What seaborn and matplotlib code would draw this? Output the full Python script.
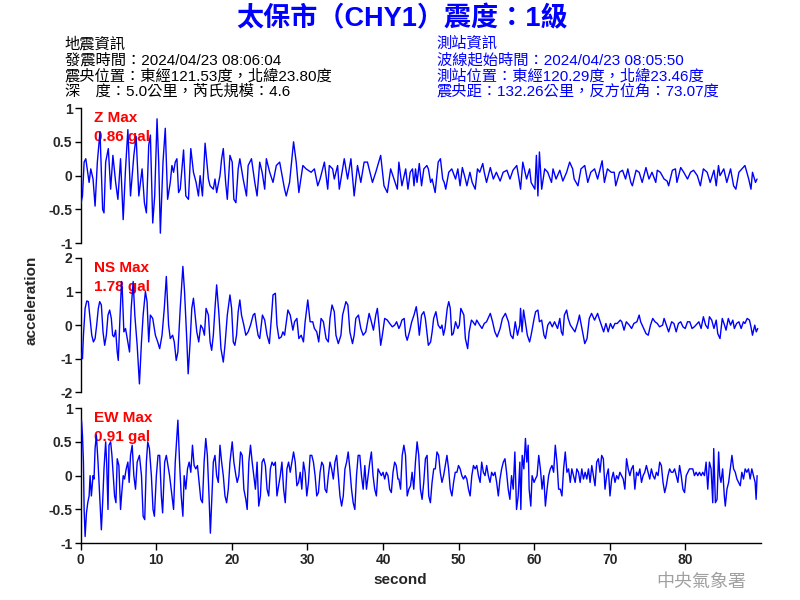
import matplotlib
matplotlib.use("Agg")
import matplotlib.pyplot as plt
import seaborn as sns
import pandas as pd

# ---------------- data ----------------
title_text = "太保市（CHY1）震度：1級"
quake_info = ["地震資訊",
              "發震時間：2024/04/23 08:06:04",
              "震央位置：東經121.53度，北緯23.80度",
              "深　度：5.0公里，芮氏規模：4.6"]
station_info = ["測站資訊",
                "波線起始時間：2024/04/23 08:05:50",
                "測站位置：東經120.29度，北緯23.46度",
                "震央距：132.26公里，反方位角：73.07度"]
components = ["Z", "NS", "EW"]
max_values = ["0.86", "1.78", "0.91"]
y_limits = [1, 2, 1]
x_ticks = [0, 10, 20, 30, 40, 50, 60, 70, 80]

z_time = [0.00, 0.22, 0.44, 0.66, 1.10, 1.32, 1.62, 1.89, 2.19, 2.54, 2.89, 3.07, 3.29, 3.64, 3.95,
          4.25, 4.61, 4.91, 5.26, 5.61, 5.92, 6.23, 6.58, 7.02, 7.32, 7.68, 7.89, 8.11, 8.42, 8.68,
          8.99, 9.21, 9.52, 9.78, 10.09, 10.31, 10.53, 10.88, 11.18, 11.49, 11.84, 12.06, 12.28,
          12.50, 12.72, 12.94, 13.16, 13.60, 13.90, 14.25, 14.56, 14.91, 15.26, 15.57, 15.79, 16.10,
          16.45, 16.89, 17.11, 17.54, 17.76, 17.98, 18.42, 18.64, 18.86, 19.17, 19.39, 19.74, 20.04,
          20.26, 20.53, 20.83, 21.05, 21.49, 21.93, 22.15, 22.59, 23.03, 23.33, 23.68, 24.00, 24.34,
          24.56, 25.00, 25.44, 25.88, 26.32, 26.97, 27.19, 27.63, 28.16, 28.51, 28.86, 29.39, 29.82,
          30.48, 30.92, 31.36, 31.67, 32.24, 32.68, 32.89, 33.33, 33.55, 33.99, 34.21, 34.87, 35.31,
          35.75, 36.18, 36.62, 37.06, 37.50, 37.94, 38.60, 39.04, 39.69, 40.13, 40.57, 41.01, 41.45,
          41.89,
          42.1, 42.5, 43.0, 43.3, 43.6, 43.9, 44.1, 44.3, 44.5, 44.8, 45.1, 45.4, 45.8, 46.0, 46.3,
          46.5, 46.7, 46.9, 47.3, 47.6, 47.9, 48.1, 48.3, 48.7, 49.1, 49.6, 49.9, 50.2, 50.5, 50.9,
          51.1, 51.5, 51.8, 52.2, 52.5, 52.8, 53.2, 53.4, 53.7, 54.2, 54.6, 55.0, 55.5, 55.9, 56.4,
          56.8, 57.2, 57.7, 58.0, 58.2, 58.5, 59.0, 59.4, 59.6, 60.1, 60.3, 60.5, 60.7, 61.0, 61.4,
          61.8, 62.3, 62.5, 62.9, 63.4, 63.8, 64.3, 64.7, 65.1, 65.3, 65.8, 66.2, 66.7, 67.1, 67.5,
          68.0, 68.4, 69.0, 69.3, 69.7, 70.2, 70.6, 70.8, 71.3, 71.7, 72.1, 72.4, 72.8, 73.0, 73.5,
          73.9, 74.3, 74.8, 75.2, 75.6, 76.1, 76.3, 76.7, 77.2, 77.6, 77.8, 78.3, 78.7, 78.9, 79.4,
          79.8, 80.3, 80.7, 81.1, 81.6, 82.0, 82.4, 82.9, 83.3, 83.8, 84.1, 84.4, 84.6, 85.1, 85.5,
          86.0, 86.4, 86.7, 87.1, 87.5, 87.9, 88.4, 88.7, 88.9, 89.3, 89.5]
z_acc = [-0.42, -0.30, 0.20, 0.25, -0.10, 0.10, -0.05, -0.45, 0.20, 0.65, -0.50, -0.55, 0.20, 0.40, -0.20,
         0.30, -0.10, -0.35, 0.25, -0.65, 0.10, 0.68, -0.30, 0.30, 0.58, -0.30, -0.10, 0.10, -0.40, -0.55,
         0.45, 0.60, -0.70, -0.30, 0.84, 0.20, -0.85, 0.20, 0.70, -0.35, -0.10, 0.15, 0.05,
         0.20, 0.25, -0.25, -0.20, 0.38, -0.30, -0.35, 0.40, 0.05, -0.10, -0.30, 0.00, -0.30,
         0.48, -0.05, -0.15, -0.20, -0.05, -0.25, 0.00, 0.25, 0.40, -0.10, -0.35, 0.30, 0.20,
         -0.35, -0.40, 0.10, 0.25, -0.05, -0.30, 0.15, 0.25, -0.10, -0.30, 0.20, 0.05, -0.20,
         0.25, 0.05, -0.10, 0.15, 0.20, -0.20, -0.30, -0.10, 0.50, 0.20, -0.25, 0.15, 0.10,
         0.05, 0.10, -0.15, -0.05, 0.20, -0.20, 0.15, 0.10, -0.05, 0.15, -0.20, 0.25, -0.05,
         0.25, -0.30, 0.15, -0.10, 0.20, 0.20, -0.10, 0.05, 0.30, -0.15, -0.25, 0.10, -0.05,
         -0.20,
         0.20, -0.15, 0.10, -0.20, 0.05, 0.10, -0.15, 0.10, -0.10, 0.18, -0.15, 0.10, 0.15, 0.10, -0.10,
         -0.05, -0.15, -0.25, 0.20, 0.25, -0.05, -0.10, -0.20, 0.05, 0.10, -0.05, 0.10, -0.15, 0.12, -0.05,
         -0.15, 0.05, -0.10, -0.20, 0.10, 0.05, 0.18, 0.05, -0.10, 0.12, -0.05, 0.05, -0.08, 0.05, 0.08,
         -0.05, 0.08, 0.15, -0.05, -0.20, 0.20, -0.05, 0.10, -0.10, -0.20, 0.30, -0.30, 0.35, -0.20, 0.10,
         0.05, -0.10, 0.10, -0.05, 0.08, -0.08, 0.05, 0.20, 0.10, -0.05, -0.15, 0.10, 0.15, -0.10, 0.05,
         0.10, -0.05, 0.22, -0.10, 0.10, 0.05, 0.05, -0.15, 0.05, 0.08, -0.05, 0.10, -0.10, -0.15, 0.08,
         0.05, -0.10, 0.12, -0.05, 0.05, -0.10, 0.08, 0.05, -0.05, -0.08, -0.15, 0.08, 0.10, -0.10, 0.12,
         0.05, -0.05, 0.05, 0.08, 0.00, -0.15, 0.10, 0.05, -0.10, 0.08, -0.15, 0.15, 0.00, 0.10, -0.10,
         0.10, -0.15, -0.20, 0.05, 0.10, 0.15, -0.05, -0.20, 0.05, -0.10, -0.05]

ns_time = [0.00, 0.10, 0.22, 0.35, 0.57, 0.79, 1.00, 1.23, 1.45, 1.67, 1.89, 2.10, 2.32, 2.50, 2.72,
           2.94, 3.16, 3.38, 3.60, 3.82, 4.04, 4.21, 4.39, 4.61, 4.82, 4.96, 5.18, 5.39, 5.48, 5.70,
           5.92, 6.23, 6.45, 6.67, 6.93, 7.15, 7.46, 7.76, 8.03, 8.25, 8.55, 8.77, 8.99, 9.21, 9.52,
           9.87, 10.18, 10.44, 10.75, 11.05, 11.32, 11.62, 11.84, 12.15, 12.37, 12.63, 12.85, 13.16,
           13.51, 13.73, 14.04, 14.21, 14.47, 14.69, 14.91, 15.13, 15.35, 15.61, 15.88, 16.14, 16.36,
           16.58, 16.89, 17.11, 17.32, 17.54, 17.76, 17.98, 18.29, 18.55, 18.86, 19.08, 19.39, 19.74,
           19.96, 20.18, 20.39, 20.61, 20.83, 21.05, 21.27, 21.58, 21.84, 22.15, 22.46, 22.81, 23.03,
           23.25, 23.46, 23.68, 24.04, 24.34, 24.65, 24.96, 25.22, 25.44, 25.75, 25.96, 26.23, 26.54,
           26.75, 26.97, 27.41, 27.72, 28.07, 28.29, 28.60, 28.86, 29.17, 29.47, 29.69, 30.04, 30.35,
           30.70, 30.92, 31.23, 31.49, 31.80, 32.11, 32.46, 32.76, 32.98, 33.25, 33.55, 33.77, 34.08,
           34.43, 34.65, 35.09, 35.35, 35.61, 35.96, 36.18, 36.40, 36.75, 37.06, 37.37, 37.72, 38.16,
           38.46, 38.73, 39.04, 39.25, 39.47, 39.69, 39.91, 40.22, 40.57, 40.88, 41.23, 41.54, 41.80,
           42.1, 42.3, 42.5, 42.8, 43.0, 43.2, 43.5, 43.8, 44.1, 44.4, 44.6, 44.8, 45.1, 45.4, 45.6,
           45.8, 46.0, 46.3, 46.5, 46.7, 47.0, 47.3, 47.6, 47.8, 48.0, 48.2, 48.5, 48.7, 48.9, 49.1,
           49.3, 49.6, 49.9, 50.1, 50.3, 50.7, 50.9, 51.2, 51.4, 51.7, 51.9, 52.2, 52.4, 52.8, 53.1,
           53.4, 53.7, 54.2, 54.5, 54.8, 55.1, 55.5, 55.8, 56.2, 56.6, 56.9, 57.2, 57.5, 57.8, 58.1,
           58.2, 58.4, 58.6, 58.9, 59.1, 59.4, 59.6, 60.0, 60.2, 60.5, 60.7, 61.0, 61.3, 61.5, 61.8,
           62.1, 62.4, 62.7, 63.1, 63.4, 63.6, 63.8, 64.0, 64.3, 64.5, 64.8, 65.1, 65.4, 65.8, 66.0,
           66.2, 66.5, 66.7, 67.0, 67.3, 67.6, 68.0, 68.4, 68.6, 68.9, 69.2, 69.5, 69.8, 70.1, 70.4,
           70.7, 71.0, 71.4, 71.6, 71.9, 72.2, 72.6, 72.9, 73.2, 73.6, 73.9, 74.1, 74.5, 74.8, 75.1,
           75.4, 75.7, 76.0, 76.3, 76.6, 77.0, 77.2, 77.5, 77.8, 78.2, 78.5, 78.8, 79.1, 79.4, 79.7,
           80.0, 80.3, 80.6, 80.9, 81.2, 81.6, 81.8, 82.1, 82.4, 82.7, 83.0, 83.2, 83.5, 83.8, 84.1,
           84.3, 84.6, 84.9, 85.2, 85.4, 85.7, 86.0, 86.3, 86.5, 86.8, 87.1, 87.4, 87.7, 87.9, 88.2,
           88.5, 88.7, 88.9, 89.2, 89.4, 89.6]
ns_acc = [-0.80, -0.90, -1.00, -0.30, 0.50, 0.72, 0.70, 0.20, -0.30, -0.50, -0.40, 0.00, 0.50, 0.70, 0.60,
          -0.20, -0.60, -0.30, 0.30, 0.45, 0.20, -0.30, -0.35, -0.15, -0.80, -1.05, 0.20, 1.30, 1.10, -0.20,
          -0.10, -0.50, -0.80, 0.50, 1.30, 0.30, -0.60, -1.75, -0.50, 0.30, 1.00, 0.70, -0.50, 0.30, 0.20,
          -0.30, -0.50, -0.70, -0.30, 0.50, 1.45, 0.00, -0.40, -0.30, -0.50, -1.05, -0.80, 0.50,
          1.75, 1.00, -0.50, -1.45, -0.50, 0.50, 0.80, 0.30, -0.20, -0.50, 0.00, -0.10, -0.30,
          0.50, 0.30, -0.50, -0.75, -0.30, 0.50, 1.20, 0.30, -0.70, -1.10, -0.60, 0.30, 0.90,
          0.50, -0.50, -0.60, -0.30, 0.40, 0.75, 0.30, 0.00, -0.30, -0.20, 0.00, 0.30, 0.35,
          0.00, -0.30, -0.40, 0.30, 0.15, -0.30, -0.55, 0.20, 0.90, 0.95, 0.00, -0.40, -0.35,
          -0.20, -0.30, 0.45, 0.30, -0.15, 0.10, 0.20, -0.40, -0.30, -0.50, 0.10, 0.75, 0.10,
          0.10, -0.10, -0.20, -0.50, 0.20, 0.10, -0.40, -0.50, 0.20, 0.60, 0.40, -0.30, -0.55,
          -0.30, 0.30, 0.70, 0.60, -0.20, -0.55, -0.30, 0.20, 0.30, -0.10, -0.30, -0.20, 0.35,
          0.10, -0.15, 0.30, 0.50, 0.00, -0.60, -0.30, 0.20, 0.15, 0.05, -0.05, 0.00, 0.10,
          -0.10, 0.00, 0.15, 0.20, -0.30, -0.45, -0.20, 0.10, 0.30, 0.55, 0.20, -0.30, 0.30, 0.40, 0.20,
          -0.20, -0.60, -0.50, -0.20, 0.20, 0.40, 0.00, -0.10, 0.00, -0.30, -0.10, 0.50, 0.70, 0.50, -0.30,
          -0.25, 0.10, -0.10, 0.00, 0.50, 0.30, -0.40, -0.70, -0.20, 0.15, 0.10, 0.00, 0.15, 0.00, -0.10,
          0.05, 0.10, 0.35, 0.10, -0.20, -0.35, -0.10, 0.20, 0.35, 0.10, -0.30, -0.40, 0.10, -0.30, 0.00,
          0.50, -0.20, 0.45, 0.00, -0.30, -0.50, -0.30, 0.20, 0.40, 0.45, 0.10, 0.15, -0.30, -0.40, 0.00,
          0.10, -0.05, 0.10, -0.10, 0.20, -0.20, -0.30, 0.30, 0.45, 0.20, 0.00, -0.10, -0.20, 0.10, 0.30,
          0.05, -0.30, -0.55, -0.40, 0.20, 0.35, 0.15, 0.35, 0.20, 0.00, -0.20, 0.05, -0.20, 0.05, -0.10,
          0.05, 0.05, 0.15, 0.10, -0.15, 0.10, 0.00, -0.10, 0.05, 0.10, 0.30, 0.10, -0.10, -0.25, -0.30,
          0.00, 0.20, 0.10, 0.05, -0.05, 0.00, 0.20, 0.00, -0.20, 0.10, 0.05, -0.20, 0.05, 0.10, -0.05,
          -0.10, 0.10, 0.10, -0.10, -0.05, 0.05, 0.10, -0.10, 0.25, 0.00, -0.10, 0.25, 0.15, -0.10, 0.15,
          -0.25, -0.40, 0.20, 0.00, -0.15, 0.20, 0.00, 0.15, -0.10, 0.05, 0.10, -0.10, 0.10, 0.05, 0.20,
          0.15, -0.05, -0.30, 0.00, -0.20, -0.10]

ew_time = [0.00, 0.09, 0.22, 0.35, 0.44, 0.57, 0.75, 0.92, 1.10, 1.23, 1.40, 1.62, 1.75, 1.89, 2.06,
           2.28, 2.50, 2.72, 2.89, 3.07, 3.29, 3.42, 3.60, 3.73, 3.95, 4.12, 4.30, 4.47, 4.65, 4.82,
           5.04, 5.26, 5.39, 5.61, 5.79, 6.01, 6.23, 6.40, 6.58, 6.80, 7.02, 7.24, 7.46, 7.76, 8.03,
           8.25, 8.46, 8.68, 8.86, 9.08, 9.34, 9.56, 9.74, 10.00, 10.22, 10.44, 10.66, 10.83, 11.10,
           11.32, 11.54, 11.75, 12.06, 12.28, 12.50, 12.72, 12.85, 13.07, 13.29, 13.51, 13.68, 13.90,
           14.12, 14.34, 14.56, 14.78, 15.00, 15.22, 15.44, 15.66, 15.88, 16.10, 16.32, 16.54, 16.75,
           16.97, 17.15, 17.32, 17.54, 17.76, 17.98, 18.20, 18.42, 18.64, 18.86, 19.08, 19.30, 19.52,
           19.74, 20.04, 20.26, 20.53, 20.70, 20.92, 21.14, 21.36, 21.58, 21.84, 22.02, 22.24, 22.46,
           22.68, 22.89, 23.11, 23.33, 23.55, 23.77, 23.99, 24.21, 24.43, 24.65, 24.87, 25.09, 25.31,
           25.53, 25.75, 25.96, 26.18, 26.40, 26.62, 26.84, 27.06, 27.28, 27.50, 27.72, 27.94, 28.16,
           28.38, 28.60, 28.82, 29.04, 29.25, 29.47, 29.69, 29.91, 30.13, 30.35, 30.57, 30.79, 31.01,
           31.23, 31.45, 31.67, 31.89, 32.11, 32.32, 32.54, 32.76, 32.98, 33.20, 33.42, 33.64, 33.86,
           34.08, 34.30, 34.52, 34.74, 34.96, 35.18, 35.39, 35.61, 35.83, 36.05, 36.27, 36.49, 36.71,
           36.93, 37.15, 37.37, 37.59, 37.81, 38.03, 38.25, 38.46, 38.68, 38.90, 39.12, 39.34, 39.56,
           39.78, 40.00, 40.22, 40.44, 40.66, 40.88, 41.10, 41.32, 41.54, 41.75, 41.97,
           42.10, 42.32, 42.54, 42.76, 42.98, 43.20, 43.42, 43.64, 43.85, 44.07, 44.29, 44.51, 44.73,
           44.95, 45.17, 45.39, 45.61, 45.83, 46.05, 46.27, 46.49, 46.71, 46.92, 47.14, 47.36, 47.58,
           47.80, 48.02, 48.24, 48.46, 48.68, 48.90, 49.12, 49.34, 49.56, 49.78, 49.99, 50.21, 50.43,
           50.65, 50.87, 51.09, 51.31, 51.53, 51.75, 51.97, 52.19, 52.41, 52.63, 52.85, 53.06, 53.28,
           53.50, 53.72, 53.94, 54.16, 54.38, 54.60, 54.82, 55.04, 55.26, 55.48, 55.70, 55.92, 56.14,
           56.35, 56.57, 56.79, 57.01, 57.23, 57.45, 57.67, 57.89, 58.11, 58.24, 58.42, 58.64, 58.85,
           59.03, 59.21, 59.34, 59.56, 59.73, 59.99, 60.17, 60.39, 60.61, 60.83, 61.05, 61.27, 61.49,
           61.71, 61.92, 62.14, 62.36, 62.58, 62.80, 63.02, 63.24, 63.46, 63.68, 63.90, 64.12, 64.34,
           64.56, 64.78, 64.99, 65.21, 65.43, 65.65, 65.87, 66.09, 66.31, 66.53, 66.75, 66.97, 67.19,
           67.41, 67.63, 67.85, 68.06, 68.28, 68.50, 68.72, 68.94, 69.16, 69.38, 69.60, 69.82, 70.04,
           70.26, 70.48, 70.70, 70.92, 71.14, 71.35, 71.57, 71.79, 72.01, 72.23, 72.45, 72.67, 72.89,
           73.11, 73.33, 73.55, 73.77, 73.99, 74.21, 74.42, 74.64, 74.86, 75.08, 75.30, 75.52, 75.74,
           75.96, 76.18, 76.40, 76.62, 76.84, 77.06, 77.28, 77.49, 77.71, 77.93, 78.15, 78.37, 78.59,
           78.81, 79.03, 79.25, 79.47, 79.69, 79.91, 80.13, 80.35, 80.56, 80.78, 81.00, 81.22, 81.44,
           81.66, 81.88, 82.10, 82.32, 82.54, 82.76, 82.98, 83.20, 83.42, 83.64, 83.77, 83.99, 84.21,
           84.42, 84.56, 84.73, 84.95, 85.17, 85.30, 85.52, 85.74, 85.96, 86.18, 86.40, 86.62, 86.84,
           87.06, 87.28, 87.49, 87.71, 87.93, 88.15, 88.37, 88.59, 88.81, 89.03, 89.25, 89.38, 89.51]
ew_acc = [0.60, 0.82, 0.60, 0.20, -0.50, -0.90, -0.55, -0.40, -0.30, 0.00, -0.30, 0.00, -0.05, 0.40, 0.60,
          0.20, -0.30, -0.80, -0.40, 0.10, 0.50, 0.20, -0.50, 0.45, 0.50, 0.30, 0.00, -0.30, -0.40, 0.25,
          0.15, -0.50, -0.30, 0.00, -0.05, 0.10, 0.20, -0.10, 0.30, 0.45, 0.00, -0.20, 0.20, 0.30, 0.00,
          -0.60, -0.65, 0.20, 0.50, 0.40, 0.00, -0.50, -0.60, 0.00, 0.30, 0.30, -0.30, -0.55, 0.20,
          0.30, 0.15, 0.00, -0.30, -0.50, 0.20, 0.60, 0.82, 0.20, -0.30, -0.60, 0.00, -0.20,
          0.10, 0.20, 0.05, 0.45, 0.15, 0.10, 0.15, -0.10, -0.35, -0.40, 0.20, 0.55, 0.30,
          -0.30, -0.85, -0.40, 0.20, 0.30, 0.00, -0.10, 0.45, 0.20, 0.00, -0.30, -0.40, -0.20,
          0.20, 0.50, 0.20, 0.00, -0.10, 0.00, 0.35, 0.30, -0.20, -0.35, -0.50, 0.20, 0.45,
          0.20, 0.00, -0.20, 0.20, -0.45, -0.30, 0.20, 0.25, 0.15, -0.20, -0.30, 0.10, 0.20,
          0.15, 0.20, -0.30, -0.15, 0.00, 0.20, -0.20, -0.40, 0.10, 0.20, 0.05, 0.20, 0.35,
          0.20, -0.15, -0.10, 0.05, -0.20, 0.20, 0.05, -0.30, -0.10, 0.30, 0.30, 0.20, 0.00,
          -0.30, -0.25, 0.05, 0.20, 0.15, -0.20, -0.25, 0.00, 0.20, 0.10, -0.05, 0.20, 0.30,
          0.00, -0.30, -0.45, -0.30, 0.10, 0.20, 0.35, 0.10, -0.20, -0.40, -0.50, 0.00, 0.30,
          0.30, 0.00, -0.20, 0.15, -0.20, 0.00, 0.20, 0.35, 0.00, -0.20, -0.30, 0.10, 0.05,
          0.00, 0.05, -0.05, 0.05, 0.00, -0.20, -0.25, 0.05, 0.20, 0.15, -0.05,
          -0.05, -0.20, 0.30, 0.45, 0.30, -0.30, -0.20, -0.15, 0.05, -0.20, 0.20, 0.50, 0.30,
          -0.20, -0.35, -0.10, 0.25, 0.30, -0.30, -0.40, -0.10, 0.10, 0.10, 0.35, 0.30, 0.05,
          -0.10, 0.00, 0.15, 0.30, 0.10, -0.20, -0.30, -0.10, 0.05, 0.05, 0.15, 0.10, 0.00,
          -0.05, 0.00, -0.05, -0.20, -0.30, 0.00, 0.15, 0.10, 0.15, 0.00, -0.10, 0.20, 0.05,
          0.00, 0.15, 0.00, -0.10, 0.05, 0.00, 0.05, -0.10, -0.30, -0.05, 0.10, 0.20, 0.25,
          0.05, -0.20, -0.35, 0.00, -0.20, 0.35, -0.50, -0.30, 0.20, -0.50, 0.30, 0.10, 0.55,
          0.20, 0.45, -0.20, -0.45, 0.00, -0.10, -0.05, 0.00, 0.30, 0.10, -0.20, 0.00, -0.45,
          -0.20, 0.00, 0.10, 0.15, 0.05, 0.45, 0.20, -0.20, -0.20, -0.30, 0.10, 0.35, 0.05,
          0.10, -0.10, 0.10, 0.00, -0.10, 0.10, 0.05, -0.10, 0.10, -0.05, 0.05, -0.05, 0.10,
          -0.10, 0.15, 0.00, -0.15, 0.20, 0.25, 0.05, 0.30, 0.25, -0.20, 0.00, 0.10, -0.30,
          -0.05, 0.05, -0.10, 0.00, -0.05, 0.05, 0.00, -0.05, -0.20, 0.25, 0.10, 0.00, 0.10,
          0.15, -0.20, 0.05, 0.00, 0.10, -0.10, 0.00, 0.05, 0.15, 0.05, -0.05, 0.10, 0.00,
          -0.05, 0.05, 0.00, 0.20, 0.15, -0.10, -0.25, -0.15, 0.00, 0.10, 0.05, 0.05, 0.10,
          0.00, -0.10, 0.15, 0.00, -0.20, -0.25, 0.00, 0.05, 0.10, 0.10, 0.10, 0.00, 0.05,
          0.00, 0.05, 0.00, 0.05, 0.00, 0.20, -0.20, 0.20, 0.10, -0.40, 0.40, -0.40, -0.35,
          0.35, 0.00, -0.10, 0.10, -0.30, -0.45, -0.20, -0.10, 0.10, 0.30, 0.10, 0.05, -0.05,
          -0.10, -0.15, 0.05, -0.05, 0.10, 0.05, 0.10, -0.05, 0.10, 0.00, -0.10, -0.35, 0.00]

traces = {"Z": (z_time, z_acc), "NS": (ns_time, ns_acc), "EW": (ew_time, ew_acc)}

# ---------------- styling ----------------
sns.set_theme(style="white")
plt.rcParams['font.family'] = ['Liberation Sans', 'Noto Sans CJK TC', 'DejaVu Sans']
mixed = ['Liberation Sans', 'Noto Sans CJK TC', 'DejaVu Sans']
cjk = ['Noto Sans CJK TC', 'DejaVu Sans']

fig = plt.figure(figsize=(8, 6), dpi=100)
left, width = 0.101, 0.85
panels = [(0.5945, 0.2255), (0.3462, 0.2238), (0.0945, 0.2255)]

for i, comp in enumerate(components):
    b, h = panels[i]
    ax = fig.add_axes([left, b, width, h])
    t, v = traces[comp]
    df = pd.DataFrame({"second": t, "acceleration": v})
    sns.lineplot(data=df, x="second", y="acceleration", ax=ax, color="#0000ff",
                 linewidth=1.0, estimator=None, sort=False, zorder=3)
    lim = y_limits[i]
    ax.set_xlim(0, 90)
    ax.set_ylim(-lim, lim)
    ax.set_facecolor("white")
    yt = [lim, lim / 2, 0, -lim / 2, -lim]
    ax.set_yticks(yt)
    ax.set_yticklabels([("%g" % y) for y in yt], fontsize=10, fontweight="bold")
    ax.tick_params(axis="y", left=True, direction="out", length=4, width=1, color="black", pad=2)
    for s in ["top", "right"]:
        ax.spines[s].set_visible(False)
    ax.spines["left"].set_color("black")
    ax.spines["left"].set_linewidth(1)
    ax.set_xlabel("")
    ax.set_ylabel("")
    if i < 2:
        ax.spines["bottom"].set_visible(False)
        ax.set_xticks([])
    else:
        ax.spines["bottom"].set_color("black")
        ax.spines["bottom"].set_linewidth(1)
        ax.set_xticks(x_ticks)
        ax.set_xticklabels([str(x) for x in x_ticks], fontsize=10, fontweight="bold")
        ax.tick_params(axis="x", bottom=True, direction="out", length=5, width=1, color="black", pad=2)
    ax.text(0.0196, 0.926, f"{comp} Max", transform=ax.transAxes, color="red",
            fontsize=11, fontweight="bold", va="center", ha="left", zorder=1)
    ax.text(0.0196, 0.786, f"{max_values[i]} gal", transform=ax.transAxes, color="red",
            fontsize=11, fontweight="bold", va="center", ha="left", zorder=1)

fig.text(0.04, 0.5, "acceleration", rotation=90, fontsize=11, fontweight="bold",
         va="center", ha="center")
fig.text(0.5, 0.033, "second", fontsize=11, fontweight="bold", va="center", ha="center")

fig.text(0.503, 0.968, title_text, family=mixed, fontsize=19.5, fontweight="bold",
         color="#0000ff", va="center", ha="center")
rows_y = [0.927, 0.900, 0.873, 0.847]
for y, s in zip(rows_y, quake_info):
    fig.text(0.081, y, s, family=mixed, fontsize=11, color="black", va="center", ha="left")
for y, s in zip(rows_y, station_info):
    fig.text(0.546, y, s, family=mixed, fontsize=11, color="#0000ff", va="center", ha="left")
fig.text(0.877, 0.03, "中央氣象署", family=cjk, fontsize=13, color="#a0a0a0",
         va="center", ha="center")

fig.savefig("out.png", dpi=100, facecolor="white")
